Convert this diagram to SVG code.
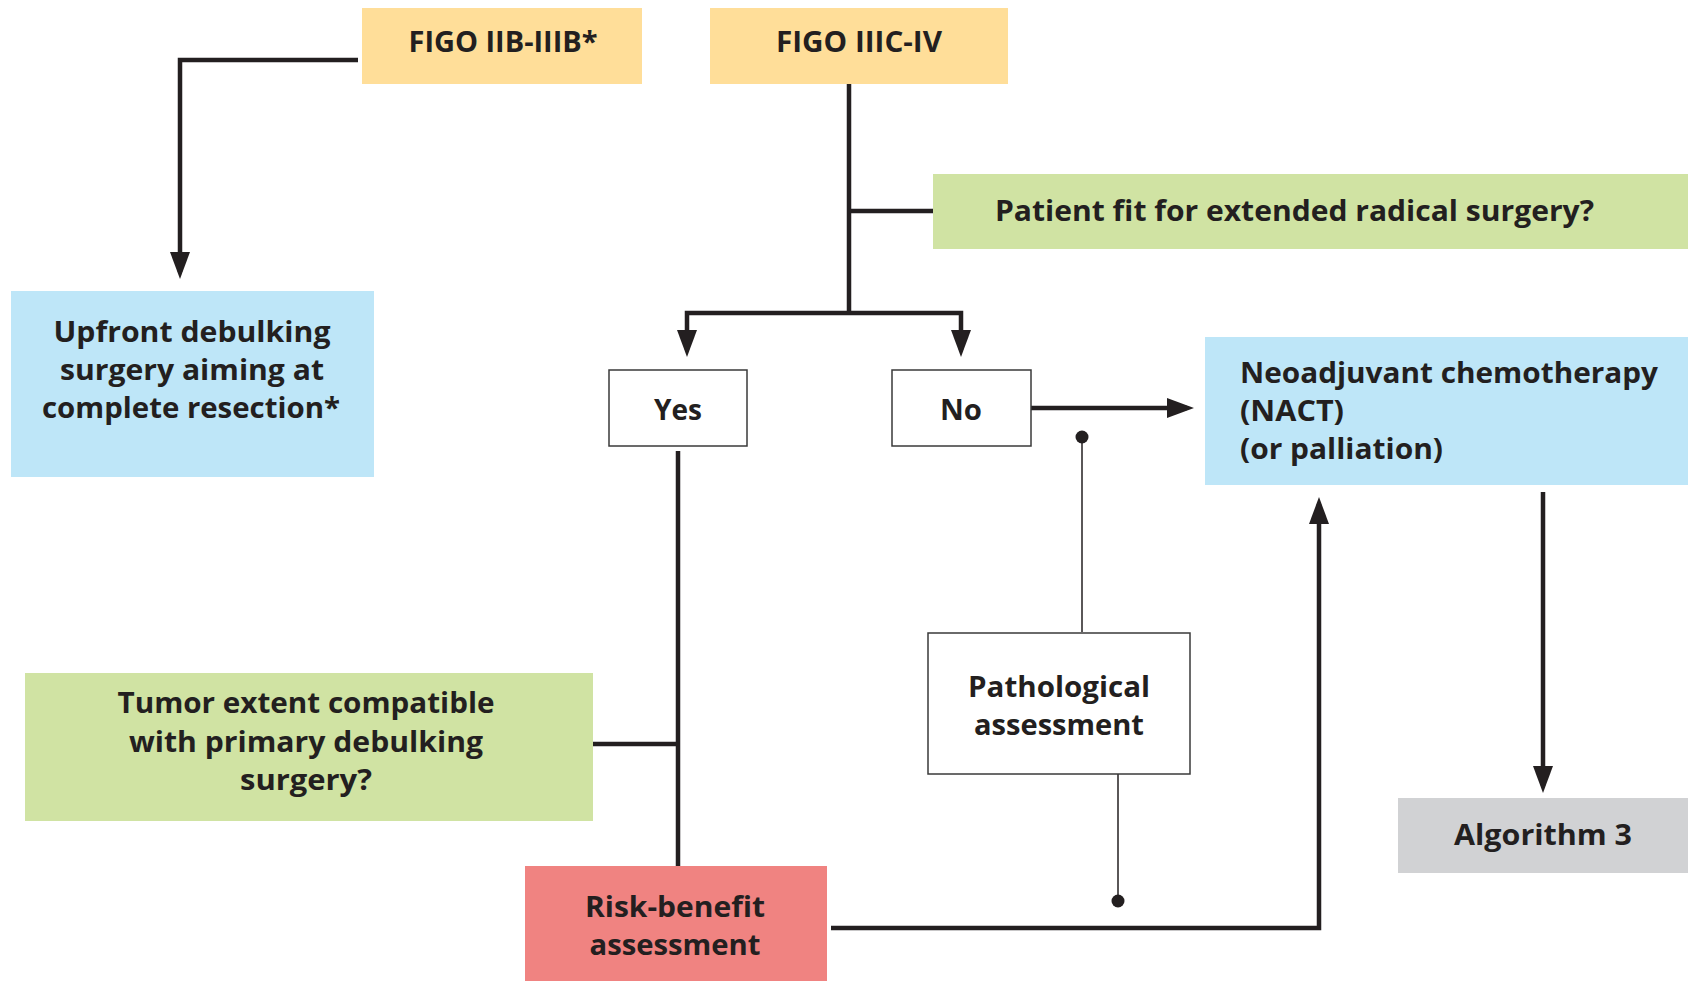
<svg xmlns="http://www.w3.org/2000/svg" width="1688" height="981" viewBox="0 0 1688 981">
<style>
.t{font-family:"Open Sans","Liberation Sans",sans-serif;font-weight:bold;font-size:29px;fill:#231F20}
.m{text-anchor:middle}
.ln{fill:none;stroke:#231F20;stroke-width:4.5}
.thin{fill:none;stroke:#231F20;stroke-width:1.5}
.figo{fill:#FFDE99}
.green{fill:#D0E3A3}
.blue{fill:#BEE6F8}
.red{fill:#F08381}
.gray{fill:#D1D2D4}
.box{fill:#FFFFFF;stroke:#3A3A3A;stroke-width:1.5}
</style>
<defs>
<marker id="ah" markerUnits="userSpaceOnUse" markerWidth="28" markerHeight="22" refX="20" refY="10" orient="auto">
<path d="M0,0 L27,10 L0,20 Z" fill="#231F20"/>
</marker>
</defs>
<rect width="1688" height="981" fill="#FFFFFF"/>
<g id="connectors">
<path class="ln" d="M358,60 H180 V272" marker-end="url(#ah)"/>
<path class="ln" d="M849,84 V313"/>
<path class="ln" d="M849,211 H933"/>
<path class="ln" d="M849,313 H687 V350" marker-end="url(#ah)"/>
<path class="ln" d="M849,313 H961 V350" marker-end="url(#ah)"/>
<path class="ln" d="M1031,408 H1187" marker-end="url(#ah)"/>
<path class="thin" d="M1082,437 V632"/>
<circle cx="1082" cy="437" r="6.5" fill="#231F20"/>
<path class="ln" d="M678,451 V866"/>
<path class="ln" d="M593,744 H678"/>
<path class="ln" d="M831,928 H1319 V504" marker-end="url(#ah)"/>
<path class="thin" d="M1118,774 V901"/>
<circle cx="1118" cy="901" r="6.5" fill="#231F20"/>
<path class="ln" d="M1543,492 V786" marker-end="url(#ah)"/>
</g>
<g id="figo-iib">
<rect class="figo" x="362" y="8" width="280" height="76"/>
<text class="t m" x="503" y="52" textLength="189" lengthAdjust="spacingAndGlyphs">FIGO IIB-IIIB*</text>
</g>
<g id="figo-iiic">
<rect class="figo" x="710" y="8" width="298" height="76"/>
<text class="t m" x="859" y="52" textLength="166" lengthAdjust="spacingAndGlyphs">FIGO IIIC-IV</text>
</g>
<g id="patient-fit">
<rect class="green" x="933" y="174" width="755" height="75"/>
<text class="t" x="995" y="221" textLength="599" lengthAdjust="spacingAndGlyphs">Patient fit for extended radical surgery?</text>
</g>
<g id="upfront">
<rect class="blue" x="11" y="291" width="363" height="186"/>
<text class="t m" x="192" y="342" textLength="277" lengthAdjust="spacingAndGlyphs">Upfront debulking</text>
<text class="t m" x="192" y="380" textLength="264" lengthAdjust="spacingAndGlyphs">surgery aiming at</text>
<text class="t m" x="191" y="418" textLength="298" lengthAdjust="spacingAndGlyphs">complete resection*</text>
</g>
<g id="yes">
<rect class="box" x="609" y="370" width="138" height="76"/>
<text class="t m" x="678" y="420" textLength="48" lengthAdjust="spacingAndGlyphs">Yes</text>
</g>
<g id="no">
<rect class="box" x="892" y="370" width="139" height="76"/>
<text class="t m" x="961" y="420" textLength="42" lengthAdjust="spacingAndGlyphs">No</text>
</g>
<g id="nact">
<rect class="blue" x="1205" y="337" width="483" height="148"/>
<text class="t" x="1240" y="383" textLength="418" lengthAdjust="spacingAndGlyphs">Neoadjuvant chemotherapy</text>
<text class="t" x="1240" y="421" textLength="104" lengthAdjust="spacingAndGlyphs">(NACT)</text>
<text class="t" x="1240" y="459" textLength="203" lengthAdjust="spacingAndGlyphs">(or palliation)</text>
</g>
<g id="pathological">
<rect class="box" x="928" y="633" width="262" height="141"/>
<text class="t m" x="1059" y="697" textLength="182" lengthAdjust="spacingAndGlyphs">Pathological</text>
<text class="t m" x="1059" y="735" textLength="170" lengthAdjust="spacingAndGlyphs">assessment</text>
</g>
<g id="tumor-extent">
<rect class="green" x="25" y="673" width="568" height="148"/>
<text class="t m" x="306" y="713" textLength="377" lengthAdjust="spacingAndGlyphs">Tumor extent compatible</text>
<text class="t m" x="306" y="752" textLength="354" lengthAdjust="spacingAndGlyphs">with primary debulking</text>
<text class="t m" x="306" y="790" textLength="132" lengthAdjust="spacingAndGlyphs">surgery?</text>
</g>
<g id="risk-benefit">
<rect class="red" x="525" y="866" width="302" height="115"/>
<text class="t m" x="675" y="917" textLength="180" lengthAdjust="spacingAndGlyphs">Risk-benefit</text>
<text class="t m" x="675" y="955" textLength="171" lengthAdjust="spacingAndGlyphs">assessment</text>
</g>
<g id="algorithm3">
<rect class="gray" x="1398" y="798" width="290" height="75"/>
<text class="t m" x="1543" y="845" textLength="178" lengthAdjust="spacingAndGlyphs">Algorithm 3</text>
</g>
</svg>
